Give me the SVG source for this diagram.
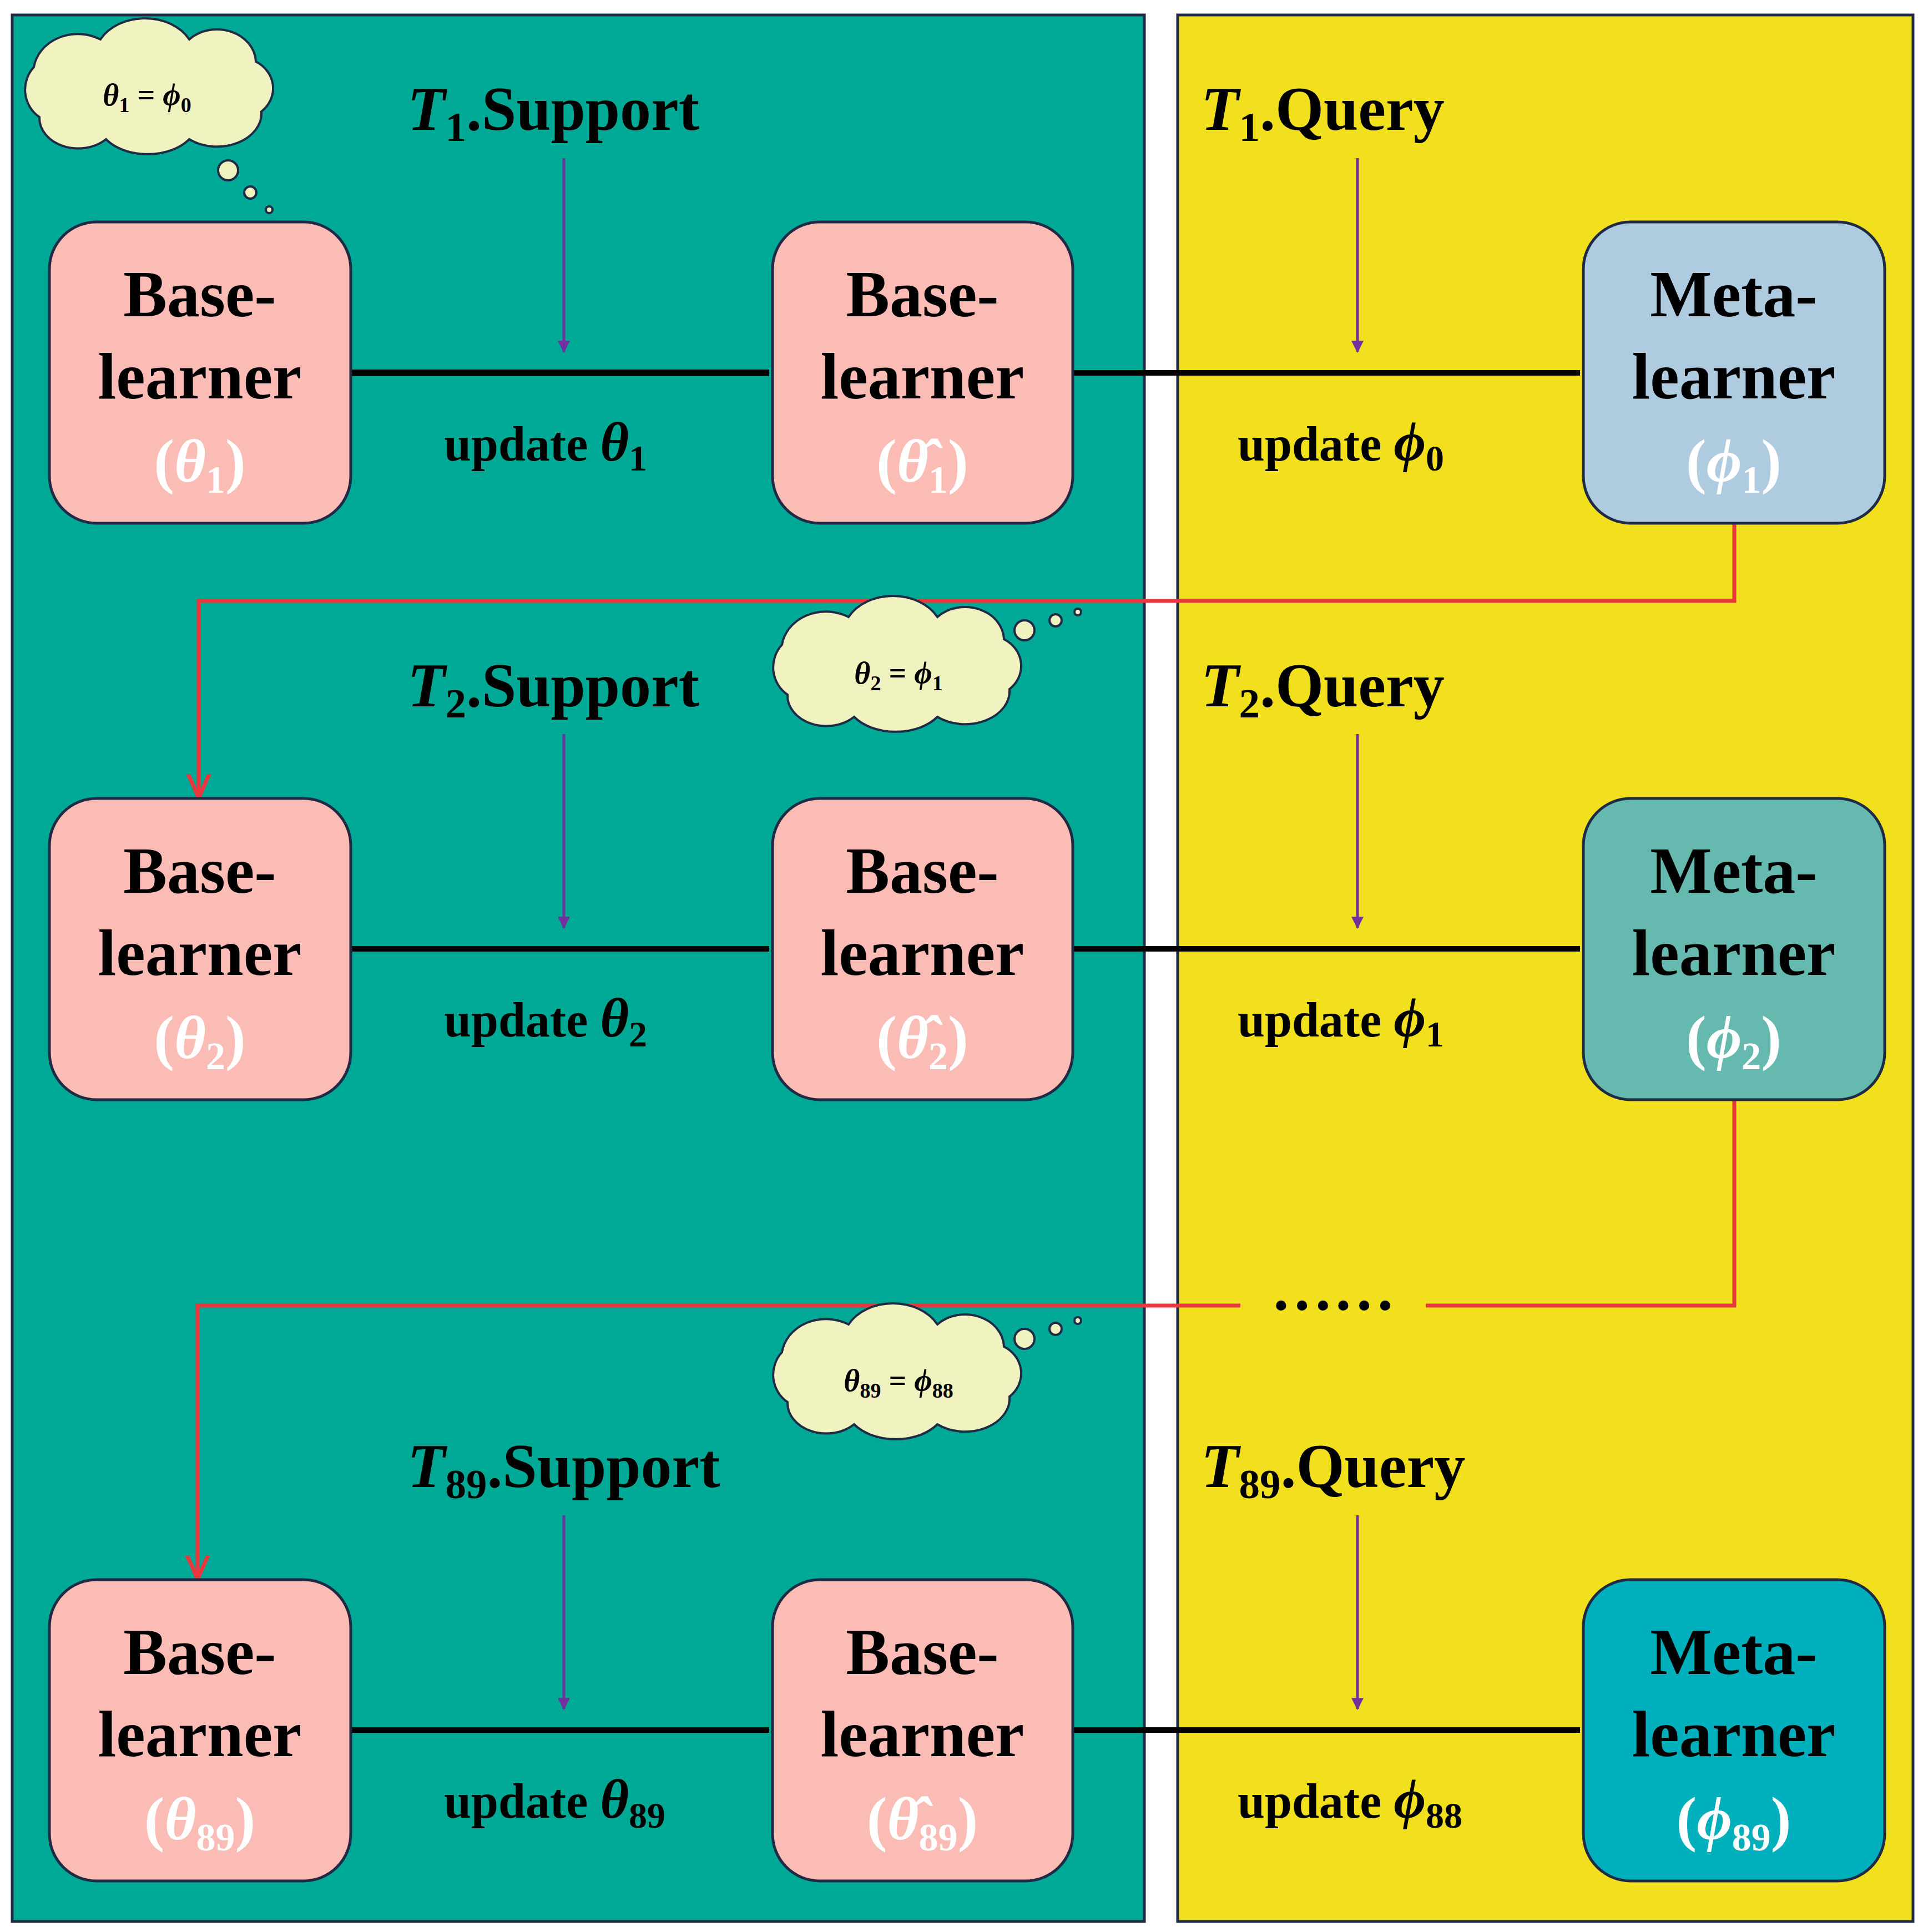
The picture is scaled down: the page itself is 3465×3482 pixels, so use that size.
<svg xmlns="http://www.w3.org/2000/svg" width="3465" height="3482" viewBox="0 0 3465 3482">
<style>
.box{stroke:#1F2A44;stroke-width:5}
.bt{font-family:"Liberation Serif",serif;font-weight:bold;font-size:118px;text-anchor:middle;fill:#000}
.wt{font-family:"Liberation Serif",serif;font-weight:bold;font-size:110px;text-anchor:middle;fill:#fff}
.lb{font-family:"Liberation Serif",serif;font-weight:bold;font-size:112px;fill:#000}
.up{font-family:"Liberation Serif",serif;font-weight:bold;font-size:88px;fill:#000}
.ct{font-family:"Liberation Serif",serif;font-weight:bold;font-size:56px;fill:#000;text-anchor:middle}
.blk{stroke:#000;stroke-width:10;fill:none}
.pur{stroke:#7030A0;stroke-width:5;fill:none}
.red{stroke:#E8383D;stroke-width:7;fill:none}
.cl{fill:#F0F3C0;stroke:#1F2A44;stroke-width:4}
</style>
<defs>
<marker id="ab" viewBox="0 0 10 10" refX="9" refY="5" markerWidth="8" markerHeight="8" markerUnits="userSpaceOnUse" orient="auto"><path d="M0,0 L10,5 L0,10z" fill="#000"/></marker>
<marker id="ap" viewBox="0 0 10 10" refX="9" refY="5" markerWidth="22" markerHeight="22" markerUnits="userSpaceOnUse" orient="auto"><path d="M0,0 L10,5 L0,10z" fill="#7030A0"/></marker>
<marker id="ar" viewBox="0 0 10 10" refX="8" refY="5" markerWidth="48" markerHeight="48" markerUnits="userSpaceOnUse" orient="auto"><path d="M0,1 L9,5 L0,9" fill="none" stroke="#E8383D" stroke-width="1.5"/></marker>
<path id="cloud" d="M-200,40 a60,60 0 0 1 -10,-90 a80,70 0 0 1 120,-50 a90,70 0 0 1 160,0 a70,60 0 0 1 120,40 a60,55 0 0 1 10,90 a80,60 0 0 1 -130,50 a90,60 0 0 1 -150,0 a70,55 0 0 1 -120,-40 z"/>
</defs>
<rect width="3465" height="3482" fill="#fff"/>
<rect id="left-panel" x="22" y="27" width="2040" height="3436" fill="#00A896" stroke="#1F2A44" stroke-width="5"/>
<rect id="right-panel" x="2122" y="27" width="1325" height="3436" fill="#F2E01F" stroke="#1F2A44" stroke-width="5"/>

<g id="connectors">
<line class="blk" x1="632" y1="672" x2="1386" y2="672" style="stroke-width:12;marker-end:url(#ab)" marker-end="url(#ab)"/>
<line class="blk" x1="1933" y1="672" x2="2847" y2="672" marker-end="url(#ab)"/>
<line class="blk" x1="632" y1="1710" x2="1386" y2="1710" marker-end="url(#ab)"/>
<line class="blk" x1="1933" y1="1710" x2="2847" y2="1710" marker-end="url(#ab)"/>
<line class="blk" x1="632" y1="3118" x2="1386" y2="3118" marker-end="url(#ab)"/>
<line class="blk" x1="1933" y1="3118" x2="2847" y2="3118" marker-end="url(#ab)"/>
<line class="pur" x1="1016" y1="285" x2="1016" y2="634" marker-end="url(#ap)"/>
<line class="pur" x1="2446" y1="285" x2="2446" y2="634" marker-end="url(#ap)"/>
<line class="pur" x1="1016" y1="1323" x2="1016" y2="1672" marker-end="url(#ap)"/>
<line class="pur" x1="2446" y1="1323" x2="2446" y2="1672" marker-end="url(#ap)"/>
<line class="pur" x1="1016" y1="2731" x2="1016" y2="3080" marker-end="url(#ap)"/>
<line class="pur" x1="2446" y1="2731" x2="2446" y2="3080" marker-end="url(#ap)"/>
<polyline class="red" points="3125,943 3125,1083 358,1083 358,1433" marker-end="url(#ar)"/>
<polyline class="red" points="3125,1982 3125,2353 2569,2353"/>
<polyline class="red" points="2235,2353 356,2353 356,2841" marker-end="url(#ar)"/>
</g>
<marker/>
<style>.blk{marker-end:url(#ab)}</style>

<g id="base1a"><rect class="box" x="89" y="400" width="543" height="543" rx="85" fill="#FCBCB6"/><text class="bt" x="360" y="570">Base-</text><text class="bt" x="360" y="718">learner</text><text class="wt" x="360" y="868">(<tspan font-style="italic">θ</tspan><tspan font-size="70" dy="20">1</tspan><tspan dy="-20">)</tspan></text></g>
<g id="base1b"><rect class="box" x="1392" y="400" width="541" height="543" rx="85" fill="#FCBCB6"/><text class="bt" x="1662" y="570">Base-</text><text class="bt" x="1662" y="718">learner</text><text class="wt" x="1662" y="868">(<tspan font-style="italic">θ̂</tspan><tspan font-size="70" dy="20">1</tspan><tspan dy="-20">)</tspan></text></g>
<g id="meta1"><rect class="box" x="2853" y="400" width="543" height="543" rx="85" fill="#AFCBDF"/><text class="bt" x="3124" y="570">Meta-</text><text class="bt" x="3124" y="718">learner</text><text class="wt" x="3124" y="868">(<tspan font-style="italic">ϕ</tspan><tspan font-size="70" dy="20">1</tspan><tspan dy="-20">)</tspan></text></g>

<g id="base2a"><rect class="box" x="89" y="1439" width="543" height="543" rx="85" fill="#FCBCB6"/><text class="bt" x="360" y="1609">Base-</text><text class="bt" x="360" y="1757">learner</text><text class="wt" x="360" y="1907">(<tspan font-style="italic">θ</tspan><tspan font-size="70" dy="20">2</tspan><tspan dy="-20">)</tspan></text></g>
<g id="base2b"><rect class="box" x="1392" y="1439" width="541" height="543" rx="85" fill="#FCBCB6"/><text class="bt" x="1662" y="1609">Base-</text><text class="bt" x="1662" y="1757">learner</text><text class="wt" x="1662" y="1907">(<tspan font-style="italic">θ̂</tspan><tspan font-size="70" dy="20">2</tspan><tspan dy="-20">)</tspan></text></g>
<g id="meta2"><rect class="box" x="2853" y="1439" width="543" height="543" rx="85" fill="#66B9AE"/><text class="bt" x="3124" y="1609">Meta-</text><text class="bt" x="3124" y="1757">learner</text><text class="wt" x="3124" y="1907">(<tspan font-style="italic">ϕ</tspan><tspan font-size="70" dy="20">2</tspan><tspan dy="-20">)</tspan></text></g>

<g id="base3a"><rect class="box" x="89" y="2847" width="543" height="543" rx="85" fill="#FCBCB6"/><text class="bt" x="360" y="3017">Base-</text><text class="bt" x="360" y="3165">learner</text><text class="wt" x="360" y="3315">(<tspan font-style="italic">θ</tspan><tspan font-size="70" dy="20">89</tspan><tspan dy="-20">)</tspan></text></g>
<g id="base3b"><rect class="box" x="1392" y="2847" width="541" height="543" rx="85" fill="#FCBCB6"/><text class="bt" x="1662" y="3017">Base-</text><text class="bt" x="1662" y="3165">learner</text><text class="wt" x="1662" y="3315">(<tspan font-style="italic">θ̂</tspan><tspan font-size="70" dy="20">89</tspan><tspan dy="-20">)</tspan></text></g>
<g id="meta3"><rect class="box" x="2853" y="2847" width="543" height="543" rx="85" fill="#00AFBC"/><text class="bt" x="3124" y="3017">Meta-</text><text class="bt" x="3124" y="3165">learner</text><text class="wt" x="3124" y="3315">(<tspan font-style="italic">ϕ</tspan><tspan font-size="70" dy="20">89</tspan><tspan dy="-20">)</tspan></text></g>

<g id="labels">
<text class="lb" x="734" y="234"><tspan font-style="italic">T</tspan><tspan font-size="75" dy="20">1</tspan><tspan dy="-20">.Support</tspan></text>
<text class="lb" x="2164" y="234"><tspan font-style="italic">T</tspan><tspan font-size="75" dy="20">1</tspan><tspan dy="-20">.Query</tspan></text>
<text class="lb" x="734" y="1273"><tspan font-style="italic">T</tspan><tspan font-size="75" dy="20">2</tspan><tspan dy="-20">.Support</tspan></text>
<text class="lb" x="2164" y="1273"><tspan font-style="italic">T</tspan><tspan font-size="75" dy="20">2</tspan><tspan dy="-20">.Query</tspan></text>
<text class="lb" x="734" y="2680"><tspan font-style="italic">T</tspan><tspan font-size="75" dy="20">89</tspan><tspan dy="-20">.Support</tspan></text>
<text class="lb" x="2164" y="2680"><tspan font-style="italic">T</tspan><tspan font-size="75" dy="20">89</tspan><tspan dy="-20">.Query</tspan></text>
<text class="up" x="800" y="830">update <tspan font-style="italic" font-size="100">θ</tspan><tspan font-size="66" dy="18">1</tspan></text>
<text class="up" x="2230" y="830">update <tspan font-style="italic" font-size="100">ϕ</tspan><tspan font-size="66" dy="18">0</tspan></text>
<text class="up" x="800" y="1868">update <tspan font-style="italic" font-size="100">θ</tspan><tspan font-size="66" dy="18">2</tspan></text>
<text class="up" x="2230" y="1868">update <tspan font-style="italic" font-size="100">ϕ</tspan><tspan font-size="66" dy="18">1</tspan></text>
<text class="up" x="800" y="3276">update <tspan font-style="italic" font-size="100">θ</tspan><tspan font-size="66" dy="18">89</tspan></text>
<text class="up" x="2230" y="3276">update <tspan font-style="italic" font-size="100">ϕ</tspan><tspan font-size="66" dy="18">88</tspan></text>
<text class="lb" x="2402" y="2360" text-anchor="middle" font-size="90">……</text>
</g>

<g id="cloud1"><use href="#cloud" class="cl" transform="translate(271,171)"/><circle class="cl" cx="411" cy="307" r="18"/><circle class="cl" cx="451" cy="347" r="11"/><circle class="cl" cx="485" cy="378" r="6"/><text class="ct" x="265" y="190"><tspan font-style="italic">θ</tspan><tspan font-size="38" dy="12">1</tspan><tspan dy="-12"> = </tspan><tspan font-style="italic">ϕ</tspan><tspan font-size="38" dy="12">0</tspan></text></g>
<g id="cloud2"><use href="#cloud" class="cl" transform="translate(1619,1212)"/><circle class="cl" cx="1846" cy="1136" r="18"/><circle class="cl" cx="1902" cy="1118" r="11"/><circle class="cl" cx="1942" cy="1103" r="6"/><text class="ct" x="1619" y="1232"><tspan font-style="italic">θ</tspan><tspan font-size="38" dy="12">2</tspan><tspan dy="-12"> = </tspan><tspan font-style="italic">ϕ</tspan><tspan font-size="38" dy="12">1</tspan></text></g>
<g id="cloud3"><use href="#cloud" class="cl" transform="translate(1619,2487)"/><circle class="cl" cx="1846" cy="2413" r="18"/><circle class="cl" cx="1902" cy="2395" r="11"/><circle class="cl" cx="1942" cy="2380" r="6"/><text class="ct" x="1619" y="2507"><tspan font-style="italic">θ</tspan><tspan font-size="38" dy="12">89</tspan><tspan dy="-12"> = </tspan><tspan font-style="italic">ϕ</tspan><tspan font-size="38" dy="12">88</tspan></text></g>
</svg>
